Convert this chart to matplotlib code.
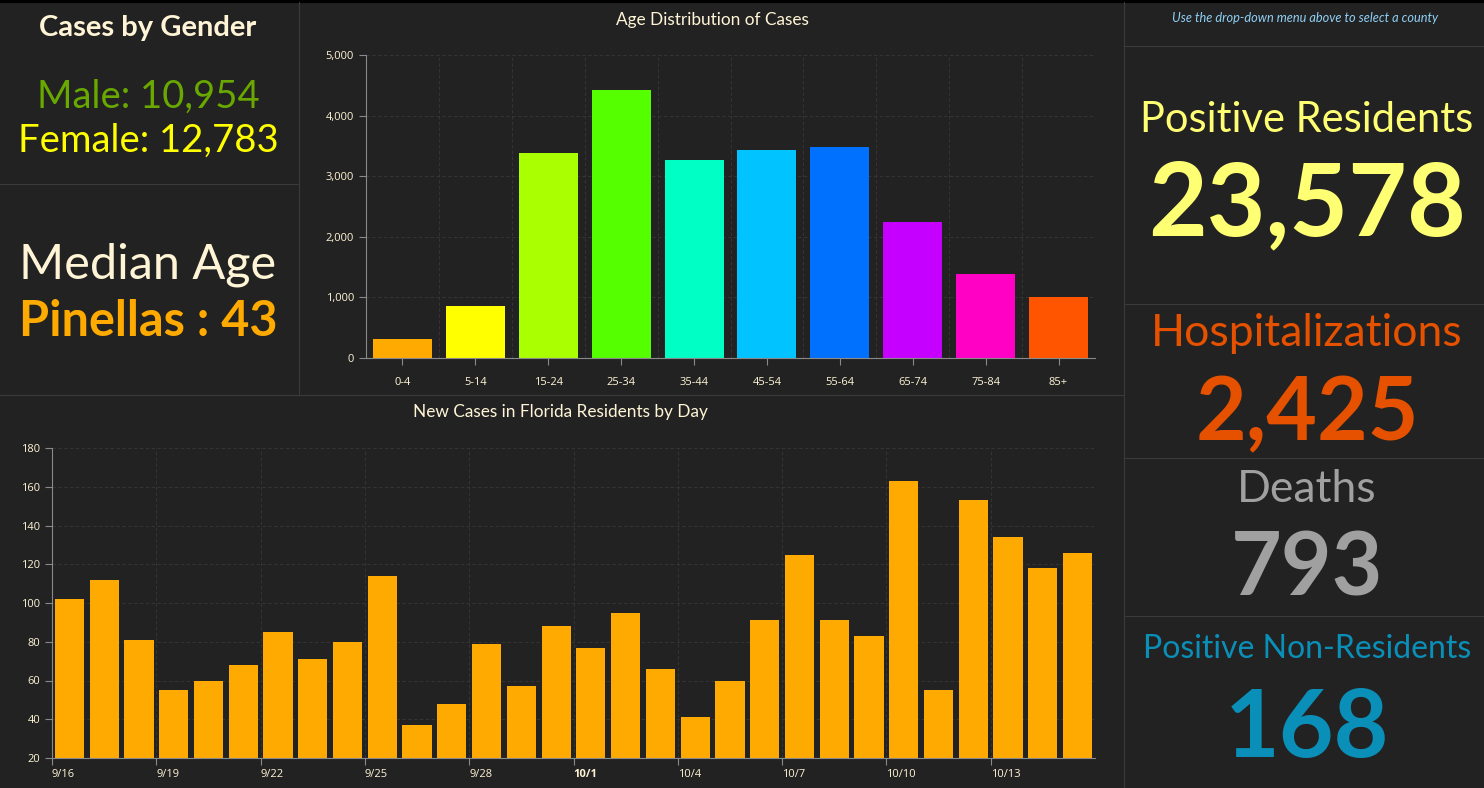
import matplotlib
matplotlib.use("Agg")
import matplotlib.pyplot as plt
from matplotlib.lines import Line2D
from matplotlib.transforms import ScaledTranslation

age_groups = ["0-4", "5-14", "15-24", "25-34", "35-44", "45-54", "55-64", "65-74", "75-84", "85+"]
age_cases = [310, 850, 3380, 4415, 3260, 3440, 3490, 2240, 1380, 1010]
age_colors = ["#ffaa00", "#ffff00", "#aaff00", "#55ff00", "#00ffc5", "#00c3ff", "#0070ff", "#c500ff", "#ff00c5", "#ff5500"]
age_ticks = [0, 1000, 2000, 3000, 4000, 5000]

days = ["9/16", "9/17", "9/18", "9/19", "9/20", "9/21", "9/22", "9/23", "9/24", "9/25",
        "9/26", "9/27", "9/28", "9/29", "9/30", "10/1", "10/2", "10/3", "10/4", "10/5",
        "10/6", "10/7", "10/8", "10/9", "10/10", "10/11", "10/12", "10/13", "10/14", "10/15"]
new_cases = [102, 112, 81, 55, 60, 68, 85, 71, 80, 114, 37, 48, 79, 57, 88,
             77, 95, 66, 41, 60, 91, 125, 91, 83, 163, 55, 153, 134, 118, 126]
day_ticks = [20, 40, 60, 80, 100, 120, 140, 160, 180]

W, H = 1484, 788
BG = "#222222"
CREAM = "#fff5d6"
HEAD = "Lato"
TICKS = "Open Sans"
GRID = "#383838"

fig = plt.figure(figsize=(W / 100, H / 100), dpi=100, facecolor=BG)


def px_axes(left, top, right, bottom):
    return fig.add_axes([left / W, 1 - bottom / H, (right - left) / W, (bottom - top) / H])


def hline(y, x0, x1, color="#3a3a3a", lw=0.8):
    fig.add_artist(Line2D([x0 / W, x1 / W], [1 - y / H, 1 - y / H], color=color, lw=lw))


def vline(x, y0, y1, color="#3a3a3a", lw=0.8):
    fig.add_artist(Line2D([x / W, x / W], [1 - y0 / H, 1 - y1 / H], color=color, lw=lw))


def label(x, y, s, size, color, weight="normal", style="normal", family=HEAD):
    fig.text(x / W, 1 - y / H, s, fontsize=size, color=color, ha="center", va="center",
             family=family, fontweight=weight, fontstyle=style)


def style_axes(ax):
    ax.set_facecolor(BG)
    for side in ("top", "right"):
        ax.spines[side].set_visible(False)
    for side in ("left", "bottom"):
        ax.spines[side].set_color("#8a8a8a")
        ax.spines[side].set_linewidth(0.8)
    ax.grid(True, color=GRID, linestyle=(0, (4, 3)), linewidth=0.6)
    ax.set_axisbelow(True)
    ax.tick_params(axis="both", color="#8a8a8a", labelcolor=CREAM, labelsize=8, length=5, width=0.8)
    for t in ax.get_xticklabels() + ax.get_yticklabels():
        t.set_family(TICKS)


# frame
hline(1, 0, W, color="#000000", lw=3)
vline(299, 2, 395)
vline(1124, 2, H)
hline(184, 0, 299)
hline(395, 0, 1124)
hline(46, 1124, W)
hline(304, 1124, W)
hline(458, 1124, W)
hline(616, 1124, W)

# age chart
ax = px_axes(366, 55, 1095, 358)
ax.bar(range(len(age_groups)), age_cases, width=0.81, color=age_colors)
ax.set_xlim(-0.5, 9.5)
ax.set_ylim(0, 5000)
ax.set_yticks(age_ticks)
ax.set_yticklabels([f"{v:,}" for v in age_ticks])
ax.set_xticks(range(len(age_groups)))
ax.set_xticklabels(age_groups)
ax.set_xticks([i - 0.5 for i in range(len(age_groups) + 1)], minor=True)
ax.tick_params(axis="x", which="minor", length=0)
style_axes(ax)
ax.xaxis.grid(False, which="major")
ax.xaxis.grid(True, which="minor", color=GRID, linestyle=(0, (4, 3)), linewidth=0.6)
ax.tick_params(axis="x", pad=9)

# daily chart
ax2 = px_axes(52, 448, 1095, 758)
ax2.bar(range(len(days)), new_cases, width=0.84, color="#ffaa00")
ax2.set_xlim(-0.5, 29.5)
ax2.set_ylim(20, 180)
ax2.set_yticks(day_ticks)
tick_idx = list(range(0, len(days), 3))
ax2.set_xticks([i - 0.5 for i in tick_idx])
ax2.set_xticklabels([days[i] for i in tick_idx])
style_axes(ax2)
offset = ScaledTranslation(3 / 100, 0, fig.dpi_scale_trans)
for t, i in zip(ax2.get_xticklabels(), tick_idx):
    t.set_ha("left")
    t.set_transform(t.get_transform() + offset)
    if days[i] == "10/1":
        t.set_fontweight("bold")
ax2.tick_params(axis="x", pad=3)

# titles
label(712, 20, "Age Distribution of Cases", 12.4, CREAM)
label(560, 412, "New Cases in Florida Residents by Day", 12.4, CREAM)
label(1305, 18, "Use the drop-down menu above to select a county", 9.2, "#8fd0f5", style="italic")

# left panels
label(148, 28, "Cases by Gender", 21, CREAM, weight="bold")
label(148, 97, "Male: 10,954", 27.5, "#68a800")
label(148, 141, "Female: 12,783", 27.5, "#ffff00")
label(148, 265, "Median Age", 35, CREAM)
label(148, 322, "Pinellas : 43", 35, "#ffaa00", weight="bold")

# right panels
label(1307, 120, "Positive Residents", 30, "#ffff73")
label(1307, 206, "23,578", 73, "#ffff73", weight="bold")
label(1307, 334, "Hospitalizations", 32, "#e65100")
label(1307, 415, "2,425", 63, "#e65100", weight="bold")
label(1307, 489, "Deaths", 32, "#a0a0a0")
label(1307, 570, "793", 63, "#a0a0a0", weight="bold")
label(1307, 649, "Positive Non-Residents", 23, "#0a8fb8")
label(1307, 730, "168", 68, "#0a8fb8", weight="bold")

fig.savefig("out.png", dpi=100, facecolor=BG)
